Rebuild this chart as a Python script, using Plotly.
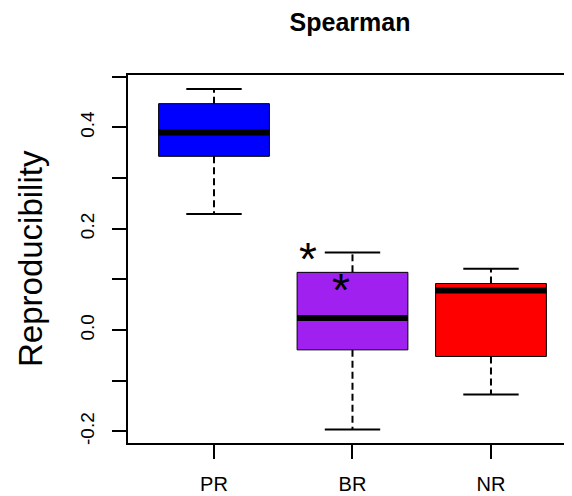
import plotly.graph_objects as go

categories = ["PR", "BR", "NR"]
colors = ["#0000FF", "#A020F0", "#FF0000"]
lower_whisker = [0.229, -0.196, -0.127]
q1 = [0.343, -0.039, -0.052]
median = [0.390, 0.024, 0.078]
q3 = [0.447, 0.114, 0.092]
upper_whisker = [0.476, 0.153, 0.121]

star_x = [1.68, 1.915]
star_y = [0.158, 0.097]

ytick_vals = [-0.2, -0.1, 0.0, 0.1, 0.2, 0.3, 0.4, 0.5]
ytick_text = ["-0.2", "", "0.0", "", "0.2", "", "0.4", ""]

FONT = "Liberation Sans, Arial, sans-serif"
box_half = 0.4
cap_half = 0.2

# page body has an 8px margin; figure sized so it ends at the window edge
W, H = 564, 488

fig = go.Figure()
for i, cat in enumerate(categories):
    x = i + 1
    fig.add_trace(go.Scatter(x=[x, x], y=[q3[i], upper_whisker[i]], mode="lines",
                             line=dict(color="black", width=2, dash="7px,4px"),
                             showlegend=False, hoverinfo="skip"))
    fig.add_trace(go.Scatter(x=[x, x], y=[q1[i], lower_whisker[i]], mode="lines",
                             line=dict(color="black", width=2, dash="7px,4px"),
                             showlegend=False, hoverinfo="skip"))
    for v in (upper_whisker[i], lower_whisker[i]):
        fig.add_trace(go.Scatter(x=[x - cap_half, x + cap_half], y=[v, v], mode="lines",
                                 line=dict(color="black", width=2),
                                 showlegend=False, hoverinfo="skip"))
    fig.add_trace(go.Scatter(x=[x - box_half, x + box_half, x + box_half, x - box_half, x - box_half],
                             y=[q1[i], q1[i], q3[i], q3[i], q1[i]], mode="lines", fill="toself",
                             fillcolor=colors[i], line=dict(color="black", width=1),
                             name=cat, showlegend=False, hoverinfo="skip"))
    fig.add_trace(go.Scatter(x=[x - box_half, x + box_half], y=[median[i], median[i]], mode="lines",
                             line=dict(color="black", width=6),
                             showlegend=False, hoverinfo="skip"))

for sx, sy in zip(star_x, star_y):
    fig.add_annotation(x=sx, y=sy, xref="x", yref="y", text="*", showarrow=False,
                       font=dict(family=FONT, size=46, color="black"),
                       xanchor="center", yanchor="middle", yshift=-9)

fig.add_annotation(x=(30 - 128) / 444, y=0.5, xref="paper", yref="paper",
                   text="Reproducibility", textangle=-90, showarrow=False,
                   font=dict(family=FONT, size=33, color="black"),
                   xanchor="center", yanchor="middle")

fig.update_layout(
    width=W, height=H,
    margin=dict(l=120, r=0, t=67, b=53, autoexpand=False),
    paper_bgcolor="white", plot_bgcolor="white",
    title=dict(text="<b>Spearman</b>", x=(350 - 8) / W, xanchor="center",
               y=1 - 14 / H, yanchor="middle", yref="container",
               font=dict(family=FONT, size=25, color="black"), automargin=False),
    xaxis=dict(range=[0.379, 3.585], tickvals=[1, 2, 3], ticktext=categories,
               showgrid=False, zeroline=False, showline=True, mirror=True,
               linecolor="black", linewidth=2, ticks="outside", ticklen=14,
               tickwidth=2, tickcolor="black", ticklabelstandoff=8, automargin=False,
               tickfont=dict(family=FONT, size=20, color="black")),
    yaxis=dict(range=[-0.2228, 0.5035], tickvals=ytick_vals, ticktext=ytick_text,
               showgrid=False, zeroline=False, showline=True, mirror=False,
               linecolor="black", linewidth=2, ticks="outside", ticklen=14,
               tickwidth=2, tickcolor="black", tickangle=-90, ticklabelstandoff=10,
               automargin=False,
               tickfont=dict(family=FONT, size=19, color="black")),
)

fig.write_html("out.html")
